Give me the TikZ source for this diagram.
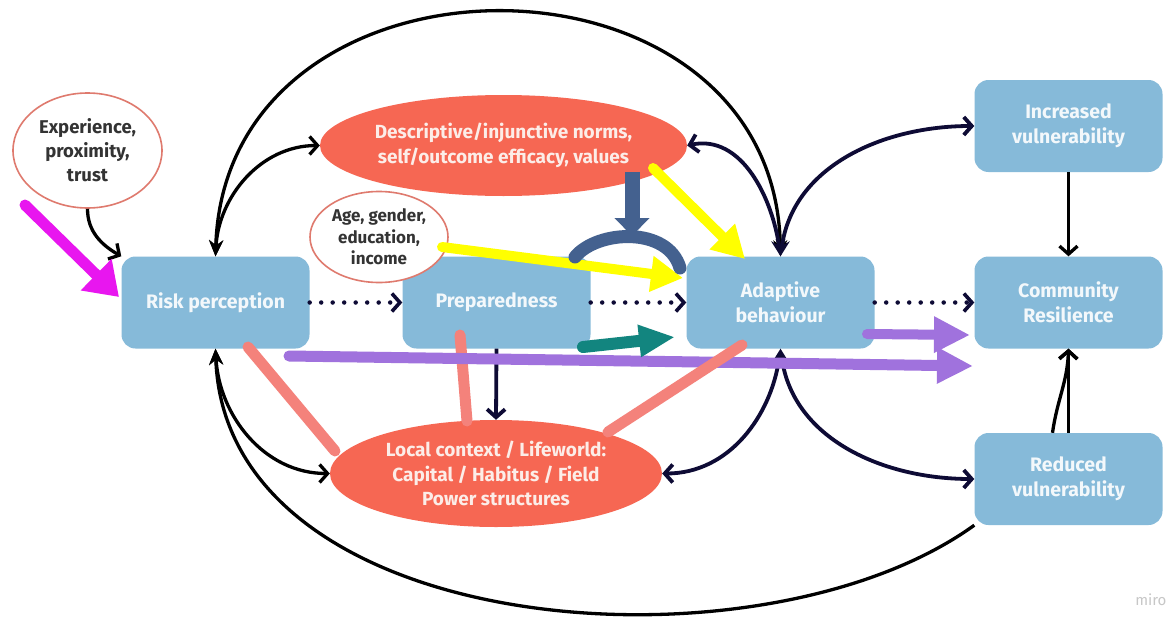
\documentclass[tikz,border=0pt]{standalone}
\usepackage{fontspec}
\setmainfont{Fira Sans}
\usetikzlibrary{arrows.meta,shapes.geometric}
\definecolor{boxblue}{HTML}{86BAD9}
\definecolor{boxtext}{HTML}{F3F8FB}
\definecolor{ellred}{HTML}{F66753}
\definecolor{elltext}{HTML}{FCEDE8}
\definecolor{rimred}{HTML}{DF7A6E}
\definecolor{navy}{HTML}{0E0B35}
\definecolor{hlmag}{HTML}{E816EF}
\definecolor{hlyel}{HTML}{FFFF00}
\definecolor{hlblue}{HTML}{44618F}
\definecolor{hlteal}{HTML}{12857F}
\definecolor{hlpurple}{HTML}{A072DD}
\definecolor{hlsalmon}{HTML}{F4827B}
\tikzset{
  stage/.style={rectangle, rounded corners=14pt, fill=boxblue, minimum width=188pt,
    minimum height=92pt, text=boxtext, align=center, inner sep=0pt,
    font=\fontsize{19.5}{25}\selectfont\bfseries},
  factor/.style={ellipse, fill=ellred, text=elltext, align=center, inner sep=0pt,
    font=\fontsize{19}{24.5}\selectfont\bfseries},
  trait/.style={ellipse, draw=rimred, line width=1.6pt, fill=white, text=black!80,
    align=center, inner sep=0pt, font=\fontsize{18.5}{24}\selectfont\bfseries},
  blk/.style={draw=black, line width=3.3pt},
  nvy/.style={draw=navy, line width=3.8pt},
  tipC/.tip={Straight Barb[length=8pt,width=18pt]},
  tipF/.tip={Stealth[length=16pt,width=14pt]},
  dotline/.style={draw=navy, line width=4.5pt, dash pattern=on 0pt off 11.5pt, line cap=round,
    -{Straight Barb[length=8pt,width=18pt,line width=3.6pt,line cap=butt]}},
  hl/.style={line width=#1, line cap=round},
}
\begin{document}
\begin{tikzpicture}[x=1pt,y=1pt]
\useasboundingbox (0,0) rectangle (1173,-616);
\fill[white] (0,0) rectangle (1173,-616);

% stages
\node[stage] (risk)  at (215.5,-302.5) {Risk perception};
\node[stage] (prep)  at (496.5,-302.5) {Preparedness};
\node[stage] (adapt) at (780.5,-302.5) {Adaptive\\behaviour};
\node[stage] (comm)  at (1068.5,-302.5) {Community\\Resilience};
\node[stage] (inc)   at (1068.5,-126) {Increased\\vulnerability};
\node[stage] (red)   at (1068.5,-479) {Reduced\\vulnerability};

% contextual factors
\node[factor, minimum width=367pt, minimum height=101pt] (desc) at (503.5,-145.5)
  {Descriptive/injunctive norms,\\self/outcome efficacy, values};
\node[factor, minimum width=332pt, minimum height=107pt] (local) at (496,-473.5)
  {Local context / Lifeworld:\\Capital / Habitus / Field\\Power structures};
\node[trait, minimum width=149pt, minimum height=115pt] (exp) at (87.5,-150.5)
  {Experience,\\proximity,\\trust};
\node[trait, minimum width=138pt, minimum height=91pt,
      font=\fontsize{17}{21.5}\selectfont\bfseries] (age) at (379,-237)
  {Age, gender,\\education,\\income};

% feedback loops
\draw[blk, tipF-tipF] (risk.north) .. controls (225,68) and (775,68) .. (adapt.north);
\draw[blk, tipF-tipC] (risk.north) to[out=87,in=180] (desc.west);
\draw[blk, tipF-tipC] (risk.south) to[out=-87,in=180] (local.west);
\draw[blk, tipF-] (risk.south) .. controls (225,-640) and (760,-680) .. (red.south west);
\draw[blk, -tipC] (exp.south) to[out=-90,in=150] (risk.north west);

\draw[nvy, tipF-tipC] (adapt.north) to[out=98,in=12] (desc.east);
\draw[nvy, tipF-tipC] (adapt.north) to[out=82,in=180] (inc.west);
\draw[nvy, tipF-tipC] (adapt.south) to[out=-98,in=0] (local.east);
\draw[nvy, tipF-tipC] (adapt.south) to[out=-82,in=180] (red.west);
\draw[nvy, -tipC] (prep.south) -- (local.north);

\draw[blk, -tipC] (inc.south) -- (comm.north);
\draw[blk, -tipC] (red.north) -- (comm.south);
\draw[blk, -tipC] ([xshift=-16pt]red.north) to[out=82,in=-92] (comm.south);

% main sequence
\draw[dotline] (risk.east) -- (prep.west);
\draw[dotline] (prep.east) -- (adapt.west);
\draw[dotline] (adapt.east) -- (comm.west);

% highlight strokes
\coordinate (m1) at (25,-205);   \coordinate (m2) at (119,-297);
\coordinate (y1) at (442,-247);  \coordinate (y2) at (683,-278);
\coordinate (y3) at (653,-168);  \coordinate (y4) at (745,-259);
\coordinate (b1) at (632,-172);  \coordinate (b2) at (632,-236);
\coordinate (a1) at (575,-257);  \coordinate (a2) at (680,-268);
\coordinate (t1) at (583,-347);  \coordinate (t2) at (675,-337);
\coordinate (p1) at (867,-334);  \coordinate (p2) at (970,-335);
\coordinate (p3) at (289,-356);  \coordinate (p4) at (973,-366);
\coordinate (s1) at (248,-347);  \coordinate (s2) at (335,-451);
\coordinate (s3) at (460,-335);  \coordinate (s4) at (467,-421);
\coordinate (s5) at (742,-345);  \coordinate (s6) at (608,-432);

\draw[hlsalmon, hl=11pt] (s1) -- (s2);
\draw[hlsalmon, hl=11pt] (s3) -- (s4);
\draw[hlpurple, hl=11pt, -{Triangle[length=36pt,width=34pt]}] (p3) -- (p4);
\draw[hlsalmon, hl=11pt] (s5) -- (s6);
\draw[hlpurple, hl=10pt, -{Triangle[length=36pt,width=34pt]}] (p1) -- (p2);
\draw[hlteal, hl=12pt, -{Triangle[length=36pt,width=30pt]}] (t1) -- (t2);
\draw[hlmag, hl=11pt, -{Triangle[length=32pt,width=42pt]}] (m1) -- (m2);
\draw[hlyel, hl=10pt, -{Triangle[length=32pt,width=34pt]}] (y1) -- (y2);
\draw[hlyel, hl=10pt, -{Triangle[length=32pt,width=34pt]}] (y3) -- (y4);
\draw[hlblue, line width=15pt, -{Triangle[length=18pt,width=34pt]}] (b1) -- (b2);
\draw[hlblue, hl=13pt] (a1) .. controls (597,-230) and (668,-226) .. (a2);

\node[text=black!22, font=\fontsize{15}{15}\selectfont, anchor=east] (brand) at (1170,-600) {miro};
\end{tikzpicture}
\end{document}
